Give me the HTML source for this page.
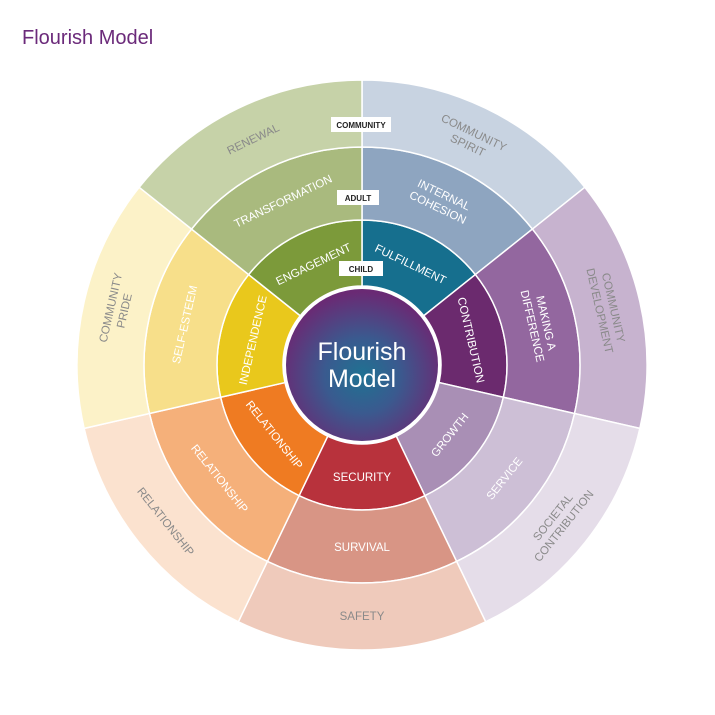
<!DOCTYPE html>
<html><head><meta charset="utf-8"><style>
body{margin:0;background:#fff;width:715px;height:715px;overflow:hidden}
svg{display:block}
</style></head><body>
<svg id="s" width="715" height="715" viewBox="0 0 715 715" xmlns="http://www.w3.org/2000/svg">
<defs><radialGradient id="g" cx="50%" cy="57%" r="55%"><stop offset="0" stop-color="#1f7292"/><stop offset="0.45" stop-color="#3a5a8f"/><stop offset="1" stop-color="#6a2a74"/></radialGradient></defs>
<text x="22" y="44" font-family="Liberation Sans, sans-serif" font-size="20" fill="#6b2a7a">Flourish Model</text>
<g id="segs"></g>
<circle cx="362" cy="365" r="79" fill="#fff"/>
<circle cx="362" cy="365" r="76" fill="url(#g)"/>
<text x="362" y="360" text-anchor="middle" font-family="Liberation Sans, sans-serif" font-size="25" fill="#fff">Flourish</text>
<text x="362" y="387" text-anchor="middle" font-family="Liberation Sans, sans-serif" font-size="25" fill="#fff">Model</text>
<g id="labels"></g>
<g font-family="Liberation Sans, sans-serif" font-weight="bold" font-size="8" fill="#222" text-anchor="middle">
<rect x="331" y="117" width="60" height="15" fill="#fff"/><text x="361" y="128">COMMUNITY</text>
<rect x="337" y="190" width="42" height="15" fill="#fff"/><text x="358" y="201">ADULT</text>
<rect x="339" y="261" width="44" height="15" fill="#fff"/><text x="361" y="272">CHILD</text>
</g>
</svg>
<script>
var cx=362,cy=365,NS="http://www.w3.org/2000/svg",step=360/7;
function pt(r,a){a=a*Math.PI/180;return [cx+r*Math.sin(a),cy-r*Math.cos(a)];}
function seg(r0,r1,a0,a1,fill){
 var p1=pt(r1,a0),p2=pt(r1,a1),p3=pt(r0,a1),p4=pt(r0,a0);
 var d="M"+p1+"A"+r1+","+r1+" 0 0 1 "+p2+"L"+p3+"A"+r0+","+r0+" 0 0 0 "+p4+"Z";
 var e=document.createElementNS(NS,"path");e.setAttribute("d",d);e.setAttribute("fill",fill);
 e.setAttribute("stroke","#fff");e.setAttribute("stroke-width","1.5");
 document.getElementById("segs").appendChild(e);}
var rings=[
 {r0:79,r1:145,tr:112,col:"#fff",c:["#166f8e","#6b2a6e","#a98fb5","#b8323c","#ef7b22","#e9c81c","#7c9a3a"],
  t:[["FULFILLMENT"],["CONTRIBUTION"],["GROWTH"],["SECURITY"],["RELATIONSHIP"],["INDEPENDENCE"],["ENGAGEMENT"]]},
 {r0:145,r1:218,tr:182,col:"#fff",c:["#8ea5c0","#93679f","#cdbfd6","#d89585","#f5b07a","#f7df8a","#a9ba7e"],
  t:[["INTERNAL","COHESION"],["MAKING A","DIFFERENCE"],["SERVICE"],["SURVIVAL"],["RELATIONSHIP"],["SELF-ESTEEM"],["TRANSFORMATION"]]},
 {r0:218,r1:285,tr:251,col:"#8a8a8a",c:["#c8d3e1","#c7b3cf","#e5dde9","#efcabb","#fbe2cf","#fcf2c8","#c6d2a8"],
  t:[["COMMUNITY","SPIRIT"],["COMMUNITY","DEVELOPMENT"],["SOCIETAL","CONTRIBUTION"],["SAFETY"],["RELATIONSHIP"],["COMMUNITY","PRIDE"],["RENEWAL"]]}];
rings.forEach(function(R){
 for(var i=0;i<7;i++){
  seg(R.r0,R.r1,i*step,(i+1)*step,R.c[i]);
  var th=(i+0.5)*step,p=pt(R.tr,th),rot=th;
  if(th>100&&th<260)rot=th-180;else if(th>=260)rot=th-360;
  var t=document.createElementNS(NS,"text");
  t.setAttribute("transform","translate("+p[0]+","+p[1]+") rotate("+rot+")");
  t.setAttribute("text-anchor","middle");t.setAttribute("font-family","Liberation Sans, sans-serif");
  t.setAttribute("font-size","11.5");t.setAttribute("fill",R.col);
  var L=R.t[i],n=L.length;
  L.forEach(function(s,k){var ts=document.createElementNS(NS,"tspan");ts.setAttribute("x","0");
   ts.setAttribute("y",((k-(n-1)/2)*14+4).toString());ts.textContent=s;t.appendChild(ts);});
  document.getElementById("labels").appendChild(t);
 }});
</script>
</body></html>
